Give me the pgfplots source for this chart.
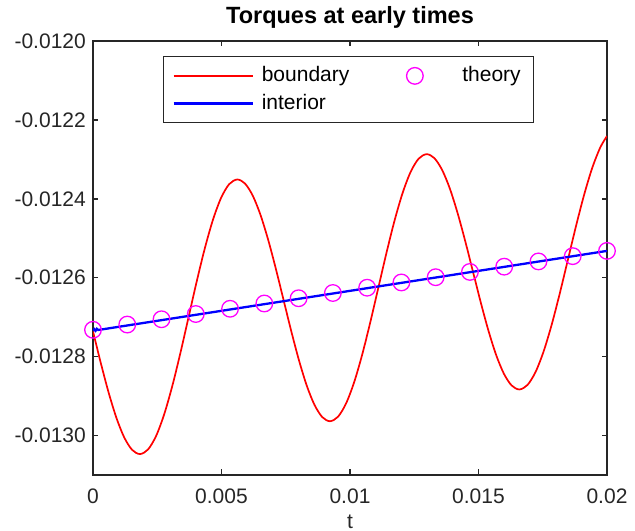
\documentclass[border=0pt]{standalone}
\usepackage{fontspec}
\setmainfont{Liberation Sans}
\usepackage{pgfplots}
\pgfplotsset{compat=1.18}
\definecolor{axgray}{rgb}{0.15,0.15,0.15}
\definecolor{mag}{rgb}{1,0,1}
\pgfplotsset{
  lineleg/.style={legend image code/.code={\draw[##1] (0bp,0bp) -- (79bp,0bp);}},
  markleg/.style={legend image code/.code={\path[draw=none,fill=none] (0bp,0bp) -- (79bp,0bp); \draw[##1] plot coordinates {(39.5bp,0bp)};}},
}
\begin{document}
\begin{tikzpicture}
\path[use as bounding box] (-93bp,-56bp) rectangle (542bp,475bp);
\begin{axis}[
  at={(0,0)}, anchor=south west,
  scale only axis, width=514bp, height=434bp,
  xmin=0, xmax=0.02, ymin=-0.0131, ymax=-0.0120,
  scaled ticks=false,
  xtick={0,0.005,0.01,0.015,0.02},
  xticklabels={0,0.005,0.01,0.015,0.02},
  ytick={-0.0130,-0.0128,-0.0126,-0.0124,-0.0122,-0.0120},
  yticklabels={-0.0130,-0.0128,-0.0126,-0.0124,-0.0122,-0.0120},
  tick align=inside, tick pos=both, major tick length=5.5bp,
  axis line style={draw=axgray, line width=1.5bp},
  every tick/.style={draw=axgray, line width=1.5bp},
  tick label style={font=\fontsize{21bp}{25bp}\selectfont, text=axgray},
  xticklabel style={anchor=base, yshift=-28.5bp},
  yticklabel style={anchor=east, inner sep=0bp, xshift=-7bp},
  title={\textbf{Torques at early times}},
  title style={font=\fontsize{23.5bp}{27bp}\selectfont, at={(0.5,1)}, anchor=base, yshift=12bp},
  xlabel={t},
  xlabel style={font=\fontsize{21bp}{25bp}\selectfont, text=axgray, at={(0.5,0)}, anchor=base, yshift=-53bp},
  legend columns=2,
  legend cell align=left,
  legend style={at={(0.1362,0.9654)}, anchor=north west, draw=axgray, line width=1bp,
    inner xsep=9bp, inner ysep=9.5bp, row sep=8bp, column sep=8bp,
    font=\fontsize{21bp}{25bp}\selectfont,
    nodes={inner sep=0bp, text height=15.7bp, text depth=4bp},
    /tikz/every even column/.append style={column sep=26bp}},
]
\addplot[color=red, line width=1.7bp, smooth, lineleg] coordinates {
(0,-0.012736) (0.000305,-0.0128165) (0.000610,-0.0128915) (0.000915,-0.0129559)
(0.001219,-0.0130053) (0.001524,-0.0130364) (0.001829,-0.013047)
(0.0021445,-0.0130351) (0.00246,-0.0130004) (0.0027755,-0.0129451) (0.003091,-0.012873)
(0.0034065,-0.0127891) (0.003722,-0.012699) (0.0040375,-0.0126089) (0.004353,-0.012525)
(0.0046685,-0.0124529) (0.004984,-0.0123976) (0.0052995,-0.0123628) (0.005615,-0.012351)
(0.0059156,-0.0123614) (0.0062162,-0.012392) (0.0065167,-0.0124407) (0.0068173,-0.0125042)
(0.0071179,-0.0125781) (0.0074185,-0.0126574) (0.0077191,-0.0127366) (0.0080197,-0.0128105)
(0.0083202,-0.012874) (0.0086208,-0.0129226) (0.0089214,-0.0129533) (0.009222,-0.0129637)
(0.0095355,-0.0129522) (0.009849,-0.0129184) (0.0101625,-0.0128646) (0.010476,-0.0127945)
(0.0107895,-0.0127128) (0.011103,-0.0126252) (0.0114165,-0.0125377) (0.01173,-0.012456)
(0.0120435,-0.0123859) (0.012357,-0.0123321) (0.0126705,-0.0122983) (0.012984,-0.0122868)
(0.0132843,-0.012297) (0.0135847,-0.0123268) (0.013885,-0.0123741) (0.0141853,-0.0124359)
(0.0144857,-0.0125078) (0.014786,-0.012585) (0.0150863,-0.0126622) (0.0153867,-0.0127341)
(0.015687,-0.0127959) (0.0159873,-0.0128432) (0.0162877,-0.012873) (0.016588,-0.0128832)
(0.016903,-0.012872) (0.017218,-0.0128392) (0.017533,-0.0127869) (0.017848,-0.0127189)
(0.018163,-0.0126396) (0.018478,-0.0125545) (0.018793,-0.0124694) (0.019108,-0.0123902)
(0.019423,-0.0123221) (0.019738,-0.0122698) (0.02,-0.012241)
};
\addlegendentry{boundary}
\addplot[only marks, mark=o, mark size=8.3bp, color=mag, line width=1.3bp, markleg] coordinates {
(0,-0.012732) (0.0013333,-0.0127187) (0.0026667,-0.0127053) (0.004,-0.012692)
(0.0053333,-0.0126787) (0.0066667,-0.0126653) (0.008,-0.012652) (0.0093333,-0.0126387)
(0.0106667,-0.0126253) (0.012,-0.012612) (0.0133333,-0.0125987) (0.0146667,-0.0125853)
(0.016,-0.012572) (0.0173333,-0.0125587) (0.0186667,-0.0125453) (0.02,-0.012532)
};
\addlegendentry{theory\kern4bp}
\addplot[color=blue, line width=2.3bp, lineleg] coordinates {
(0,-0.0127345) (0.00005,-0.0127305) (0.0001,-0.0127345) (0.00015,-0.0127295)
(0.0002,-0.0127325) (0.02,-0.012532)
};
\addlegendentry{interior}
\end{axis}
\end{tikzpicture}
\end{document}
